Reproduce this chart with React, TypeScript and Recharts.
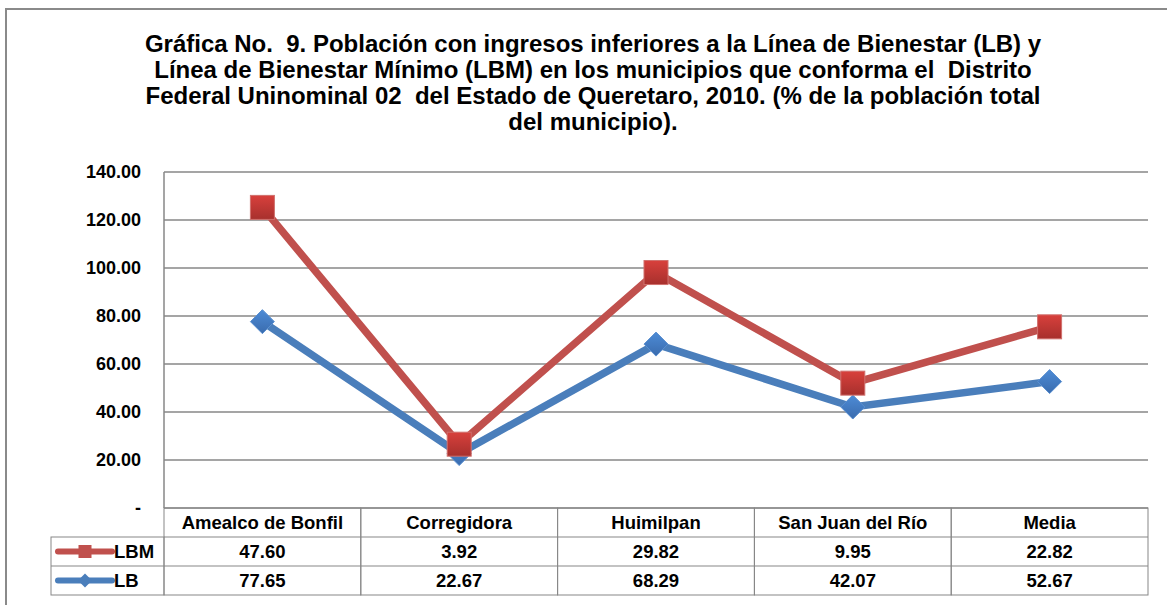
import { ComposedChart, Area, XAxis, YAxis, CartesianGrid } from "recharts";

const categories = [
  "Amealco de Bonfil",
  "Corregidora",
  "Huimilpan",
  "San Juan del Río",
  "Media",
];
const lbmValues = [47.6, 3.92, 29.82, 9.95, 22.82];
const lbValues = [77.65, 22.67, 68.29, 42.07, 52.67];
const yTicks = [0, 20, 40, 60, 80, 100, 120, 140];

const titleLines = [
  "Gráfica No.  9. Población con ingresos inferiores a la Línea de Bienestar (LB) y",
  "Línea de Bienestar Mínimo (LBM) en los municipios que conforma el  Distrito",
  "Federal Uninominal 02  del Estado de Queretaro, 2010. (% de la población total",
  "del municipio).",
];

const data = categories.map((name, i) => ({
  name,
  LB: lbValues[i],
  LBM: lbmValues[i],
}));

const FONT = "'Liberation Sans', Arial, sans-serif";
const PLOT_LEFT = 164;
const PLOT_RIGHT = 1148;
const PLOT_BOTTOM = 508;
const BAND = (PLOT_RIGHT - PLOT_LEFT) / categories.length;
const ROW = 29;
const RED = "#C0504D";
const BLUE = "#4A7EBB";
const GRID = "#878787";
const LEGEND_LEFT = 51;

const Square = (props: any) => {
  const { cx, cy, index } = props;
  if (cx == null || cy == null) return null;
  return (
    <rect
      key={`sq-${index}`}
      x={cx - 12}
      y={cy - 12}
      width={24}
      height={24}
      fill="url(#redGrad)"
      stroke="#D0706D"
      strokeWidth={1}
    />
  );
};

const Diamond = (props: any) => {
  const { cx, cy, index } = props;
  if (cx == null || cy == null) return null;
  const r = 12;
  return (
    <path
      key={`dm-${index}`}
      d={`M${cx},${cy - r} L${cx + r},${cy} L${cx},${cy + r} L${cx - r},${cy} Z`}
      fill="url(#blueGrad)"
      stroke="#5A8FD0"
      strokeWidth={1}
    />
  );
};

const LegendGlyph = ({ y, color, kind }: { y: number; color: string; kind: string }) => {
  const cx = 85;
  return (
    <g>
      <line x1={58} y1={y} x2={112} y2={y} stroke={color} strokeWidth={6} strokeLinecap="round" />
      {kind === "square" ? (
        <rect x={cx - 6.5} y={y - 6.5} width={13} height={13} fill={color} />
      ) : (
        <path d={`M${cx},${y - 7} L${cx + 7},${y} L${cx},${y + 7} L${cx - 7},${y} Z`} fill={color} />
      )}
    </g>
  );
};

const TableTick = (props: any) => {
  const { x, index, payload } = props;
  const top = PLOT_BOTTOM;
  const left = x - BAND / 2;
  const textStyle = {
    fontFamily: FONT,
    fontWeight: 700,
    fontSize: 18.5,
    fill: "#000",
  };
  return (
    <g>
      <rect x={left} y={top} width={BAND} height={ROW * 3} fill="none" stroke={GRID} strokeWidth={1} />
      <line x1={left} y1={top + ROW} x2={left + BAND} y2={top + ROW} stroke={GRID} />
      <line x1={left} y1={top + ROW * 2} x2={left + BAND} y2={top + ROW * 2} stroke={GRID} />
      <text x={x} y={top + ROW / 2} dy="0.36em" textAnchor="middle" style={textStyle}>
        {payload.value}
      </text>
      <text x={x} y={top + ROW * 1.5} dy="0.36em" textAnchor="middle" style={textStyle}>
        {lbmValues[index].toFixed(2)}
      </text>
      <text x={x} y={top + ROW * 2.5} dy="0.36em" textAnchor="middle" style={textStyle}>
        {lbValues[index].toFixed(2)}
      </text>
      {index === 0 && (
        <g>
          <rect
            x={LEGEND_LEFT}
            y={top + ROW}
            width={left - LEGEND_LEFT}
            height={ROW * 2}
            fill="none"
            stroke={GRID}
          />
          <line x1={LEGEND_LEFT} y1={top + ROW * 2} x2={left} y2={top + ROW * 2} stroke={GRID} />
          <LegendGlyph y={top + ROW * 1.5} color={RED} kind="square" />
          <LegendGlyph y={top + ROW * 2.5} color={BLUE} kind="diamond" />
          <text x={114} y={top + ROW * 1.5} dy="0.36em" style={textStyle}>
            LBM
          </text>
          <text x={114} y={top + ROW * 2.5} dy="0.36em" style={textStyle}>
            LB
          </text>
        </g>
      )}
    </g>
  );
};

export default function App() {
  return (
    <div style={{ position: "absolute", left: 0, top: 0, width: 1167, height: 605, background: "#fff", overflow: "hidden" }}>
      <div
        style={{
          position: "absolute",
          left: 5,
          top: 8,
          width: 1200,
          height: 640,
          borderTop: "2px solid #8a8a8a",
          borderLeft: "2px solid #8a8a8a",
        }}
      />
      <div
        style={{
          position: "absolute",
          left: 0,
          top: 31,
          width: 1186,
          textAlign: "center",
          fontFamily: FONT,
          fontWeight: 700,
          fontSize: 24,
          lineHeight: "26px",
          color: "#000",
          whiteSpace: "pre",
        }}
      >
        {titleLines.map((l) => (
          <div key={l}>{l}</div>
        ))}
      </div>
      <div style={{ position: "absolute", left: 0, top: 0 }}>
        <ComposedChart
          width={1167}
          height={605}
          data={data}
          margin={{ top: 172, right: 1167 - PLOT_RIGHT, bottom: 0, left: PLOT_LEFT - 100 }}
        >
          <defs>
            <linearGradient id="redGrad" x1="0" y1="0" x2="0" y2="1">
              <stop offset="0%" stopColor="#D8403C" />
              <stop offset="100%" stopColor="#A7302D" />
            </linearGradient>
            <linearGradient id="blueGrad" x1="0" y1="0" x2="0" y2="1">
              <stop offset="0%" stopColor="#4D8BD6" />
              <stop offset="100%" stopColor="#3A6CAE" />
            </linearGradient>
          </defs>
          <CartesianGrid vertical={false} stroke={GRID} strokeWidth={1.5} />
          <XAxis
            dataKey="name"
            height={97}
            axisLine={false}
            tickLine={false}
            tickSize={0}
            interval={0}
            padding={{ left: BAND / 2, right: BAND / 2 }}
            tick={<TableTick />}
          />
          <YAxis
            width={100}
            domain={[0, 140]}
            ticks={yTicks}
            interval={0}
            axisLine={{ stroke: GRID, strokeWidth: 1.5 }}
            tickLine={false}
            tickSize={0}
            tickMargin={23}
            tickFormatter={(v: number) => (v === 0 ? "-" : v.toFixed(2))}
            tick={{ fontFamily: FONT, fontWeight: 700, fontSize: 18, fill: "#000" }}
          />
          <Area
            type="linear"
            dataKey="LB"
            stackId="s"
            stroke={BLUE}
            strokeWidth={7.5}
            fill="none"
            dot={<Diamond />}
            activeDot={false}
            isAnimationActive={false}
          />
          <Area
            type="linear"
            dataKey="LBM"
            stackId="s"
            stroke={RED}
            strokeWidth={7.5}
            fill="none"
            dot={<Square />}
            activeDot={false}
            isAnimationActive={false}
          />
        </ComposedChart>
      </div>
    </div>
  );
}
